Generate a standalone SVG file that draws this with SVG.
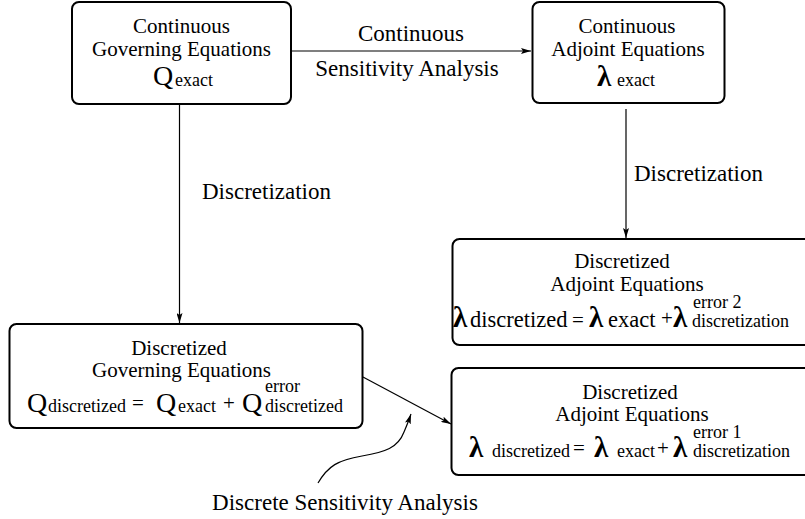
<svg xmlns="http://www.w3.org/2000/svg" width="805" height="519" viewBox="0 0 805 519" font-family="'Liberation Serif', 'Times New Roman', Times, 'DejaVu Serif', serif">
<defs>
<style>
.box{fill:#fff;stroke:#000;stroke-width:2}
text{font-family:"Liberation Serif","Times New Roman",Times,"DejaVu Serif",serif;fill:#000}
.b{font-size:21px}
.m{text-anchor:middle}
.big{font-size:28px}
.lam{font-size:29px;font-weight:bold}
.sub{font-size:18px}
.lbl{font-size:23px}
.c{fill:none;stroke:#000;stroke-width:1.2}
</style>
<marker id="ah" viewBox="0 0 10 6" refX="10" refY="3" markerWidth="10" markerHeight="6" markerUnits="userSpaceOnUse" orient="auto">
<path d="M0,0 L10,3 L0,6 L2,3 Z" fill="#000"/>
</marker>
</defs>
<rect width="805" height="519" fill="#fff"/>
<g id="connectors">
<line class="c" x1="291" y1="51" x2="531" y2="51" marker-end="url(#ah)"/>
<line class="c" x1="179.5" y1="104" x2="179.5" y2="323" marker-end="url(#ah)"/>
<line class="c" x1="626" y1="109" x2="626" y2="238" marker-end="url(#ah)"/>
<line class="c" x1="363" y1="377" x2="451" y2="424" marker-end="url(#ah)"/>
<path class="c" d="M318,483 C328,466 338,460 362,456 C385,452 398,448 404,432 C407,425 409,420 411,414" marker-end="url(#ah)"/>
<text class="lbl m" x="411" y="41">Continuous</text>
<text class="lbl m" x="407" y="76">Sensitivity Analysis</text>
<text class="lbl" x="202" y="199">Discretization</text>
<text class="lbl" x="634" y="181">Discretization</text>
<text class="lbl m" x="345" y="510">Discrete Sensitivity Analysis</text>
</g>
<g id="n1">
<rect class="box" x="72" y="2" width="219" height="102" rx="7"/>
<text class="b m" x="181.5" y="33">Continuous</text>
<text class="b m" x="181.5" y="56">Governing Equations</text>
<text class="big" x="153" y="85">Q</text>
<text class="sub" x="175" y="86">exact</text>
</g>
<g id="n2">
<rect class="box" x="532.5" y="2" width="192" height="101" rx="7"/>
<text class="b m" x="627" y="33">Continuous</text>
<text class="b m" x="628" y="56">Adjoint Equations</text>
<text class="lam" x="597" y="86">λ</text>
<text class="sub" x="617" y="86">exact</text>
</g>
<g id="n3">
<rect class="box" x="452.5" y="239" width="360" height="106" rx="7"/>
<text class="b m" x="622" y="268">Discretized</text>
<text class="b m" x="627" y="291">Adjoint Equations</text>
<text class="lam" x="453" y="327">λ</text>
<text font-size="22.5px" x="470" y="327">discretized</text>
<text class="b" x="572" y="327">=</text>
<text class="lam" x="589" y="327">λ</text>
<text font-size="22.5px" x="608" y="327">exact</text>
<text class="b" x="661" y="325">+</text>
<text class="lam" x="673" y="327">λ</text>
<text class="sub" x="693" y="308">error 2</text>
<text class="sub" x="692" y="327">discretization</text>
</g>
<g id="n4">
<rect class="box" x="9.5" y="324" width="353" height="104" rx="7"/>
<text class="b m" x="179" y="355">Discretized</text>
<text class="b m" x="181.5" y="377">Governing Equations</text>
<text class="big" x="27" y="412">Q</text>
<text class="sub" x="48" y="412">discretized</text>
<text class="b" x="132" y="410">=</text>
<text class="big" x="156" y="412">Q</text>
<text class="sub" x="178" y="412">exact</text>
<text class="b" x="223" y="410">+</text>
<text class="big" x="242" y="412">Q</text>
<text class="sub" x="265" y="392">error</text>
<text class="sub" x="265" y="412">discretized</text>
</g>
<g id="n5">
<rect class="box" x="451.5" y="368" width="360" height="107" rx="7"/>
<text class="b m" x="630" y="399">Discretized</text>
<text class="b m" x="632" y="421">Adjoint Equations</text>
<text class="lam" x="469" y="457">λ</text>
<text class="sub" x="492" y="457">discretized</text>
<text class="b" x="573" y="455">=</text>
<text class="lam" x="594" y="457">λ</text>
<text class="sub" x="617" y="457">exact</text>
<text class="b" x="657" y="455">+</text>
<text class="lam" x="673" y="457">λ</text>
<text class="sub" x="693" y="438">error 1</text>
<text class="sub" x="693" y="457">discretization</text>
</g>
</svg>
